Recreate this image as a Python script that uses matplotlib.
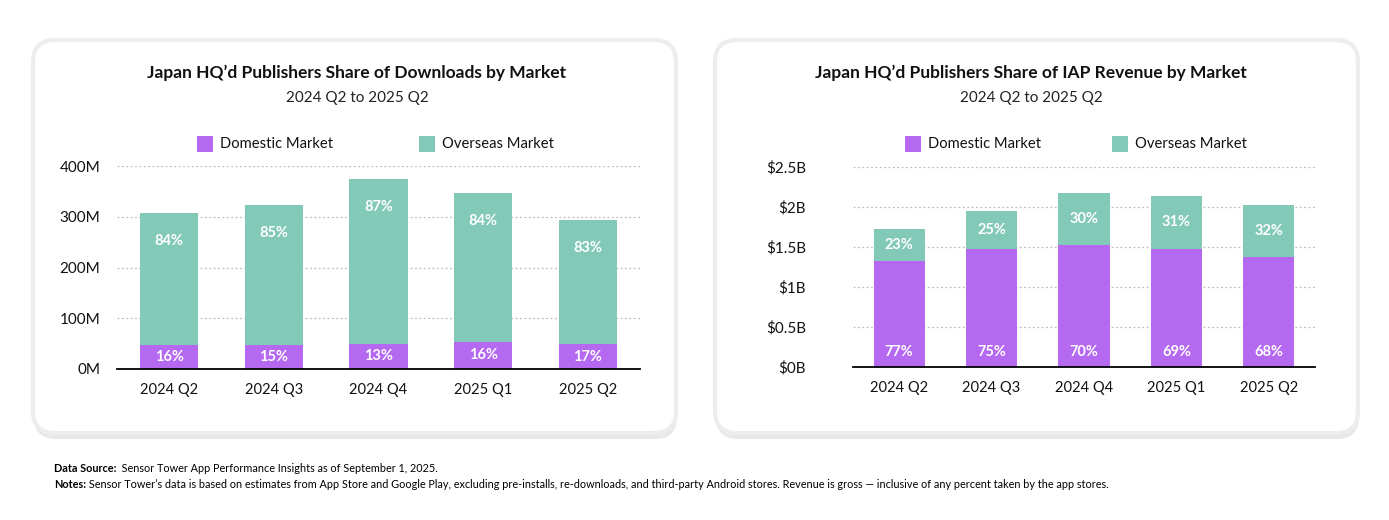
import numpy as np
import matplotlib.pyplot as plt
from matplotlib.patches import FancyBboxPatch

plt.rcParams['font.family'] = ['Lato', 'DejaVu Sans']

quarters = ['2024 Q2', '2024 Q3', '2024 Q4', '2025 Q1', '2025 Q2']

# downloads, millions
dl_domestic = [48, 48, 50, 54, 49]
dl_total = [307, 323, 374, 346, 294]
dl_dom_pct = ['16%', '15%', '13%', '16%', '17%']
dl_ovs_pct = ['84%', '85%', '87%', '84%', '83%']

# IAP revenue, billions USD
rev_domestic = [1.32, 1.47, 1.52, 1.48, 1.38]
rev_total = [1.73, 1.95, 2.18, 2.14, 2.02]
rev_dom_pct = ['77%', '75%', '70%', '69%', '68%']
rev_ovs_pct = ['23%', '25%', '30%', '31%', '32%']

PURPLE = '#b569f0'
TEAL = '#83c9b8'

W, H = 1389, 520
fig = plt.figure(figsize=(W / 100, H / 100), dpi=100)
fig.patch.set_facecolor('white')

# background panels drawn in pixel units
bg = fig.add_axes([0, 0, 1, 1], zorder=-10)
bg.set_xlim(0, W)
bg.set_ylim(H, 0)
bg.axis('off')
for x0 in (33, 715):
    bg.add_patch(FancyBboxPatch((x0 + 1, 44), 643, 395, boxstyle='round,pad=0,rounding_size=22',
                                facecolor='#e8e8e8', edgecolor='none'))
    bg.add_patch(FancyBboxPatch((x0, 40), 643, 393, boxstyle='round,pad=0,rounding_size=22',
                                facecolor='white', edgecolor='#ededed', linewidth=3))


def px_box(x0, x1, ytop, ybot):
    return [x0 / W, 1 - ybot / H, (x1 - x0) / W, (ybot - ytop) / H]


def draw_panel(rect, domestic, total, dom_pct, ovs_pct, ymax, step, fmt, ypad, ovs_mode, dom_mode):
    ax = fig.add_axes(rect)
    x = np.arange(len(quarters))
    overseas = [t - d for t, d in zip(total, domestic)]
    ax.bar(x, domestic, width=0.555, color=PURPLE, zorder=3)
    ax.bar(x, overseas, bottom=domestic, width=0.555, color=TEAL, zorder=3)
    ax.set_xlim(-0.5, 4.5)
    ax.set_ylim(0, ymax)
    ticks = np.arange(0, ymax + step / 2, step)
    ax.set_yticks(ticks)
    ax.set_yticklabels([fmt(t) for t in ticks])
    ax.set_xticks(x)
    ax.set_xticklabels(quarters)
    ax.tick_params(axis='both', length=0, labelsize=11, colors='#111111')
    ax.tick_params(axis='x', labelsize=10.6, pad=10)
    ax.tick_params(axis='y', pad=ypad)
    for s in ('top', 'right', 'left'):
        ax.spines[s].set_visible(False)
    ax.spines['bottom'].set_color('black')
    ax.spines['bottom'].set_linewidth(1.3)
    ax.spines['bottom'].set_zorder(4)
    for t in ticks[1:]:
        ax.axhline(t, color='#bdbdbd', linestyle=(0, (1.5, 2)), linewidth=0.9, zorder=1)
    ax.set_facecolor('none')
    lab = dict(color='white', fontsize=10.5, fontweight='bold', ha='center', va='center', zorder=5)
    for i in range(len(quarters)):
        if dom_mode == 'center':
            ax.text(x[i], domestic[i] / 2, dom_pct[i], **lab)
        else:
            ax.annotate(dom_pct[i], (x[i], 0), xytext=(0, 11), textcoords='offset points', **lab)
        if ovs_mode == 'center':
            ax.text(x[i], domestic[i] + overseas[i] / 2, ovs_pct[i], **lab)
        else:
            ax.annotate(ovs_pct[i], (x[i], total[i]), xytext=(0, -20), textcoords='offset points', **lab)
    return ax


axl = draw_panel(px_box(117, 640, 166, 369), dl_domestic, dl_total, dl_dom_pct, dl_ovs_pct,
                 400, 100, lambda v: f'{v:.0f}M', 12, 'top', 'center')
axr = draw_panel(px_box(853, 1315, 167, 367), rev_domestic, rev_total, rev_dom_pct, rev_ovs_pct,
                 2.5, 0.5, lambda v: f'${v:g}B', 34, 'center', 'base')

# titles
titles = ["Japan HQ\u2019d Publishers Share of Downloads by Market",
          "Japan HQ\u2019d Publishers Share of IAP Revenue by Market"]
for cx, t in zip((357, 1031), titles):
    bg.text(cx, 73, t, fontsize=12.5, fontweight='bold', ha='center', va='center', color='#111111')
    bg.text(cx, 98, '2024 Q2 to 2025 Q2', fontsize=11, ha='center', va='center', color='#222222')

# legends
for (s1, s2) in ((197, 419), (905, 1112)):
    for sx, name, col in ((s1, 'Domestic Market', PURPLE), (s2, 'Overseas Market', TEAL)):
        bg.add_patch(plt.Rectangle((sx, 136), 16, 16, facecolor=col, edgecolor='none'))
        bg.text(sx + 23, 144, name, fontsize=10.6, ha='left', va='center', color='#111111')

# footer
t1 = bg.text(54, 468, 'Data Source:', fontsize=7.8, fontweight='bold', va='center', ha='left')
bg.annotate('  Sensor Tower App Performance Insights as of September 1, 2025.', xy=(1, 0.5),
            xycoords=t1, va='center', ha='left', fontsize=7.8)
t2 = bg.text(54, 485, 'Notes:', fontsize=7.8, fontweight='bold', va='center', ha='left')
bg.annotate(' Sensor Tower\u2019s data is based on estimates from App Store and Google Play, excluding '
            'pre-installs, re-downloads, and third-party Android stores. Revenue is gross \u2014 '
            'inclusive of any percent taken by the app stores.', xy=(1, 0.5),
            xycoords=t2, va='center', ha='left', fontsize=7.8)

fig.savefig('out.png', dpi=100, facecolor='white')
